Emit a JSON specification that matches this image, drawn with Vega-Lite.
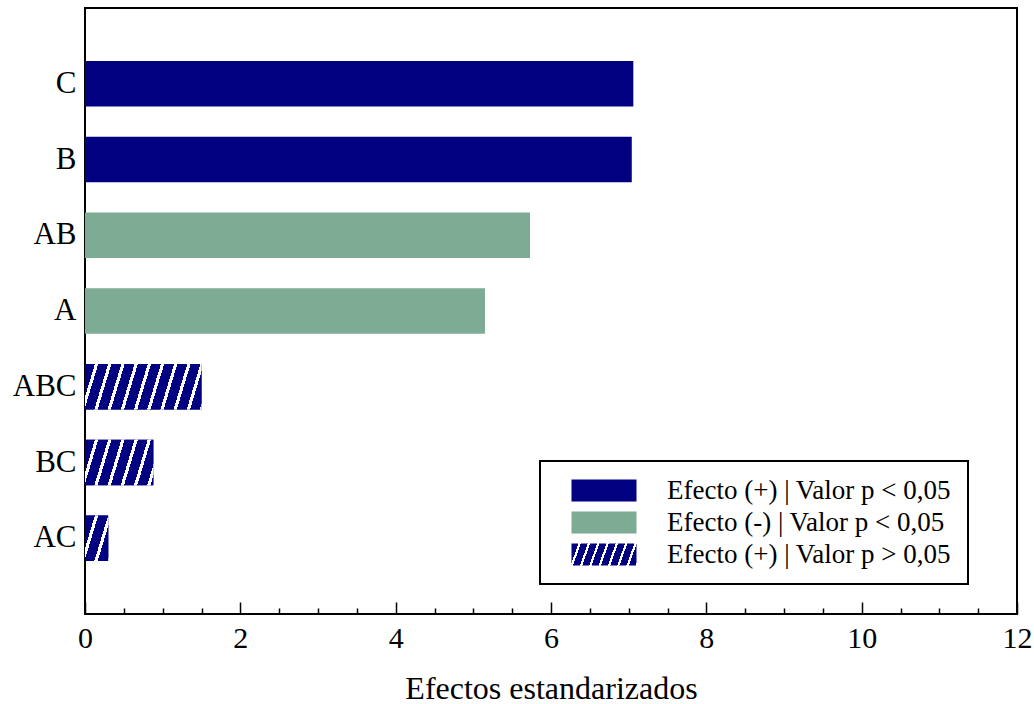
{
  "$schema": "https://vega.github.io/schema/vega-lite/v6.json",
  "width": 932,
  "height": 606,
  "autosize": {"type": "none"},
  "padding": {"left": 85, "top": 8, "right": 17, "bottom": 90},
  "background": "white",
  "config": {
    "font": "Liberation Serif",
    "view": {"stroke": "black", "strokeWidth": 2},
    "axis": {"grid": false, "labelColor": "black", "titleColor": "black", "tickColor": "black", "labelFont": "Liberation Serif", "titleFont": "Liberation Serif"}
  },
  "data": {
    "values": [
      {"efecto": "C", "valor": 7.06, "grupo": "Efecto (+) | Valor p < 0,05"},
      {"efecto": "B", "valor": 7.04, "grupo": "Efecto (+) | Valor p < 0,05"},
      {"efecto": "AB", "valor": 5.73, "grupo": "Efecto (-) | Valor p < 0,05"},
      {"efecto": "A", "valor": 5.15, "grupo": "Efecto (-) | Valor p < 0,05"},
      {"efecto": "ABC", "valor": 1.5, "grupo": "Efecto (+) | Valor p > 0,05"},
      {"efecto": "BC", "valor": 0.88, "grupo": "Efecto (+) | Valor p > 0,05"},
      {"efecto": "AC", "valor": 0.3, "grupo": "Efecto (+) | Valor p > 0,05"}
    ]
  },
  "encoding": {
    "y": {
      "field": "efecto",
      "type": "nominal",
      "sort": ["C", "B", "AB", "A", "ABC", "BC", "AC"],
      "scale": {"paddingInner": 0.4, "paddingOuter": 0.7},
      "axis": {"title": null, "ticks": false, "domain": false, "labelFontSize": 31, "labelPadding": 9}
    }
  },
  "layer": [
    {
      "mark": {"type": "bar"},
      "encoding": {
        "x": {
          "field": "valor",
          "type": "quantitative",
          "scale": {"domain": [0, 12], "nice": false},
          "axis": {
            "orient": "bottom",
            "values": [0, 2, 4, 6, 8, 10, 12],
            "tickSize": -12,
            "tickWidth": 1.5,
            "domain": false,
            "labelFontSize": 30,
            "labelPadding": 21,
            "labelFlush": false,
            "title": "Efectos estandarizados",
            "titleFontSize": 32,
            "titleFontWeight": "normal",
            "titlePadding": 20
          }
        },
        "color": {
          "field": "efecto",
          "type": "nominal",
          "scale": {
            "domain": ["C", "B", "AB", "A", "ABC", "BC", "AC"],
            "range": ["#000080", "#000080", "#7dab93", "#7dab93", "#000080", "#000080", "#000080"]
          },
          "legend": null
        },
        "opacity": {
          "field": "grupo",
          "type": "nominal",
          "scale": {
            "domain": ["Efecto (+) | Valor p < 0,05", "Efecto (-) | Valor p < 0,05", "Efecto (+) | Valor p > 0,05"],
            "range": [1, 1, 1]
          },
          "legend": {
            "title": null,
            "orient": "none",
            "legendX": 455,
            "legendY": 453,
            "padding": 16,
            "rowPadding": 4,
            "symbolOffset": 34.5,
            "labelOffset": 49.5,
            "symbolType": "M-2.955,-1H2.955V1H-2.955Z",
            "symbolSize": 484,
            "symbolStrokeWidth": 0,
            "symbolFillColor": "#000080",
            "labelFont": "Liberation Serif",
            "labelFontSize": 27,
            "labelColor": "black",
            "labelLimit": 500,
            "strokeColor": "black",
            "fillColor": "white",
            "encode": {
              "legend": {"update": {"strokeWidth": {"value": 2}}},
              "symbols": {
                "update": {
                  "fill": [
                    {"test": "datum.value === 'Efecto (+) | Valor p < 0,05'", "value": "#000080"},
                    {"test": "datum.value === 'Efecto (-) | Valor p < 0,05'", "value": "#7dab93"},
                    {
                      "value": {
                        "gradient": "linear", "x1": 0, "y1": 0, "x2": 1.105, "y2": 0.1336,
                        "stops": [
                          {"offset": 0, "color": "#000080"}, {"offset": 0.0958, "color": "#000080"}, {"offset": 0.0958, "color": "#ffffff"}, {"offset": 0.1277, "color": "#ffffff"},
                          {"offset": 0.1277, "color": "#000080"}, {"offset": 0.2235, "color": "#000080"}, {"offset": 0.2235, "color": "#ffffff"}, {"offset": 0.2554, "color": "#ffffff"},
                          {"offset": 0.2554, "color": "#000080"}, {"offset": 0.3512, "color": "#000080"}, {"offset": 0.3512, "color": "#ffffff"}, {"offset": 0.3831, "color": "#ffffff"},
                          {"offset": 0.3831, "color": "#000080"}, {"offset": 0.4789, "color": "#000080"}, {"offset": 0.4789, "color": "#ffffff"}, {"offset": 0.5108, "color": "#ffffff"},
                          {"offset": 0.5108, "color": "#000080"}, {"offset": 0.6066, "color": "#000080"}, {"offset": 0.6066, "color": "#ffffff"}, {"offset": 0.6385, "color": "#ffffff"},
                          {"offset": 0.6385, "color": "#000080"}, {"offset": 0.7343, "color": "#000080"}, {"offset": 0.7343, "color": "#ffffff"}, {"offset": 0.7662, "color": "#ffffff"},
                          {"offset": 0.7662, "color": "#000080"}, {"offset": 0.862, "color": "#000080"}, {"offset": 0.862, "color": "#ffffff"}, {"offset": 0.8939, "color": "#ffffff"},
                          {"offset": 0.8939, "color": "#000080"}, {"offset": 0.9897, "color": "#000080"}, {"offset": 0.9897, "color": "#ffffff"}, {"offset": 1, "color": "#ffffff"}
                        ]
                      }
                    }
                  ]
                }
              }
            }
          }
        }
      }
    },
    {
      "transform": [{"filter": "datum.efecto === 'ABC'"}],
      "mark": {
        "type": "bar",
        "fill": {
          "gradient": "linear", "x1": 0, "y1": 0, "x2": 1.1027, "y2": 0.1302,
          "stops": [
            {"offset": 0, "color": "#000080"}, {"offset": 0.076, "color": "#000080"}, {"offset": 0.076, "color": "#ffffff"}, {"offset": 0.1013, "color": "#ffffff"},
            {"offset": 0.1013, "color": "#000080"}, {"offset": 0.1773, "color": "#000080"}, {"offset": 0.1773, "color": "#ffffff"}, {"offset": 0.2026, "color": "#ffffff"},
            {"offset": 0.2026, "color": "#000080"}, {"offset": 0.2786, "color": "#000080"}, {"offset": 0.2786, "color": "#ffffff"}, {"offset": 0.3039, "color": "#ffffff"},
            {"offset": 0.3039, "color": "#000080"}, {"offset": 0.3799, "color": "#000080"}, {"offset": 0.3799, "color": "#ffffff"}, {"offset": 0.4052, "color": "#ffffff"},
            {"offset": 0.4052, "color": "#000080"}, {"offset": 0.4812, "color": "#000080"}, {"offset": 0.4812, "color": "#ffffff"}, {"offset": 0.5065, "color": "#ffffff"},
            {"offset": 0.5065, "color": "#000080"}, {"offset": 0.5825, "color": "#000080"}, {"offset": 0.5825, "color": "#ffffff"}, {"offset": 0.6078, "color": "#ffffff"},
            {"offset": 0.6078, "color": "#000080"}, {"offset": 0.6838, "color": "#000080"}, {"offset": 0.6838, "color": "#ffffff"}, {"offset": 0.7091, "color": "#ffffff"},
            {"offset": 0.7091, "color": "#000080"}, {"offset": 0.7851, "color": "#000080"}, {"offset": 0.7851, "color": "#ffffff"}, {"offset": 0.8104, "color": "#ffffff"},
            {"offset": 0.8104, "color": "#000080"}, {"offset": 0.8864, "color": "#000080"}, {"offset": 0.8864, "color": "#ffffff"}, {"offset": 0.9117, "color": "#ffffff"},
            {"offset": 0.9117, "color": "#000080"}, {"offset": 0.9877, "color": "#000080"}, {"offset": 0.9877, "color": "#ffffff"}, {"offset": 1, "color": "#ffffff"}
          ]
        }
      },
      "encoding": {
        "x": {
          "field": "valor",
          "type": "quantitative",
          "scale": {"domain": [0, 12], "nice": false},
          "axis": {
            "orient": "bottom",
            "values": [0.5, 1, 1.5, 2.5, 3, 3.5, 4.5, 5, 5.5, 6.5, 7, 7.5, 8.5, 9, 9.5, 10.5, 11, 11.5],
            "tickSize": -6,
            "tickWidth": 1.5,
            "labels": false,
            "domain": false,
            "title": null
          }
        }
      }
    },
    {
      "transform": [{"filter": "datum.efecto === 'BC'"}],
      "mark": {
        "type": "bar",
        "fill": {
          "gradient": "linear", "x1": 0, "y1": 0, "x2": 1.1546, "y2": 0.2324,
          "stops": [
            {"offset": 0, "color": "#000080"}, {"offset": 0.1206, "color": "#000080"}, {"offset": 0.1206, "color": "#ffffff"}, {"offset": 0.1608, "color": "#ffffff"},
            {"offset": 0.1608, "color": "#000080"}, {"offset": 0.2814, "color": "#000080"}, {"offset": 0.2814, "color": "#ffffff"}, {"offset": 0.3216, "color": "#ffffff"},
            {"offset": 0.3216, "color": "#000080"}, {"offset": 0.4422, "color": "#000080"}, {"offset": 0.4422, "color": "#ffffff"}, {"offset": 0.4824, "color": "#ffffff"},
            {"offset": 0.4824, "color": "#000080"}, {"offset": 0.603, "color": "#000080"}, {"offset": 0.603, "color": "#ffffff"}, {"offset": 0.6432, "color": "#ffffff"},
            {"offset": 0.6432, "color": "#000080"}, {"offset": 0.7638, "color": "#000080"}, {"offset": 0.7638, "color": "#ffffff"}, {"offset": 0.804, "color": "#ffffff"},
            {"offset": 0.804, "color": "#000080"}, {"offset": 0.9246, "color": "#000080"}, {"offset": 0.9246, "color": "#ffffff"}, {"offset": 0.9648, "color": "#ffffff"},
            {"offset": 0.9648, "color": "#000080"}, {"offset": 1, "color": "#000080"}
          ]
        }
      },
      "encoding": {
        "x": {"field": "valor", "type": "quantitative", "scale": {"domain": [0, 12], "nice": false}, "axis": null}
      }
    },
    {
      "transform": [{"filter": "datum.efecto === 'AC'"}],
      "mark": {
        "type": "bar",
        "fill": {
          "gradient": "linear", "x1": 0, "y1": 0, "x2": 1.1794, "y2": 0.6964,
          "stops": [
            {"offset": 0, "color": "#000080"}, {"offset": 0.2671, "color": "#000080"}, {"offset": 0.2671, "color": "#ffffff"}, {"offset": 0.3562, "color": "#ffffff"},
            {"offset": 0.3562, "color": "#000080"}, {"offset": 0.6233, "color": "#000080"}, {"offset": 0.6233, "color": "#ffffff"}, {"offset": 0.7124, "color": "#ffffff"},
            {"offset": 0.7124, "color": "#000080"}, {"offset": 0.9795, "color": "#000080"}, {"offset": 0.9795, "color": "#ffffff"}, {"offset": 1, "color": "#ffffff"}
          ]
        }
      },
      "encoding": {
        "x": {"field": "valor", "type": "quantitative", "scale": {"domain": [0, 12], "nice": false}, "axis": null}
      }
    }
  ],
  "resolve": {"axis": {"x": "independent"}}
}
